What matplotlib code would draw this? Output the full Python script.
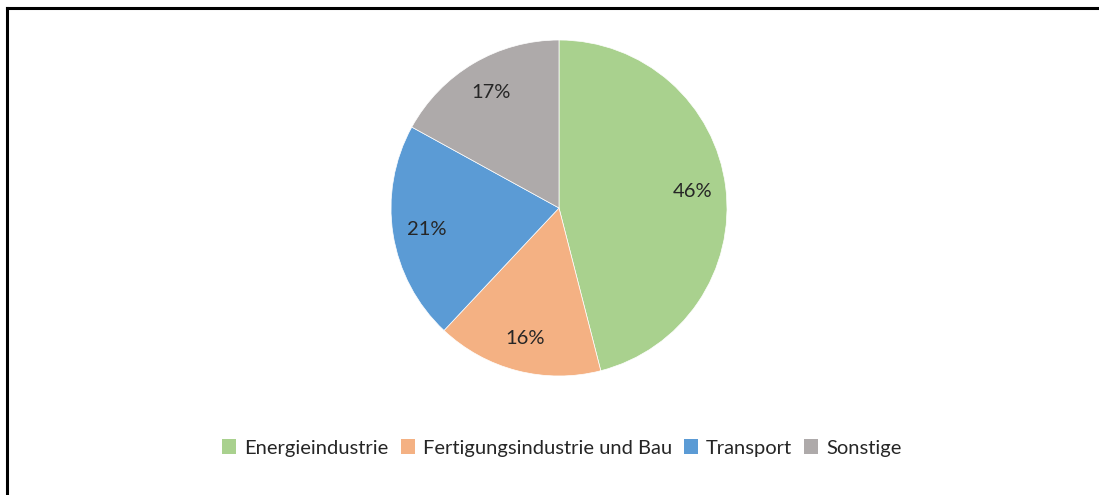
import matplotlib
matplotlib.use("Agg")
import matplotlib.pyplot as plt
from matplotlib.lines import Line2D
from matplotlib.patches import Patch

categories = ["Energieindustrie", "Fertigungsindustrie und Bau", "Transport", "Sonstige"]
values = [46, 16, 21, 17]
colors = ["#A9D18E", "#F4B183", "#5B9BD5", "#AEAAAA"]

plt.rcParams['font.family'] = ['Lato', 'DejaVu Sans']

W, H = 1099, 495
fig = plt.figure(figsize=(W / 100, H / 100), dpi=100)
fig.patch.set_facecolor("white")

cx, cy, r = 559, 208, 168
ax = fig.add_axes([(cx - r) / W, 1 - (cy + r) / H, 2 * r / W, 2 * r / H])
wedges, texts, autotexts = ax.pie(
    values, colors=colors, startangle=90, counterclock=False,
    autopct=lambda p: f"{p:.0f}%", pctdistance=0.8,
    wedgeprops=dict(linewidth=0.5, edgecolor="white"),
    textprops=dict(fontsize=14.5, color="#262626"))
ax.set_xlim(-1, 1)
ax.set_ylim(-1, 1)
ax.set_aspect("equal")

handles = [Patch(facecolor=c, edgecolor="none") for c in colors]
fig.legend(handles, categories, loc="center", ncol=4,
           bbox_to_anchor=(562 / W, 1 - 448 / H), frameon=False,
           fontsize=14.5, handlelength=0.7, handleheight=0.7,
           handletextpad=0.4, columnspacing=0.6, labelcolor="#262626")

# frame lines (top and left)
fig.add_artist(Line2D([7 / W, 1], [1 - 7.5 / H, 1 - 7.5 / H], color="black", lw=2.2,
                      transform=fig.transFigure))
fig.add_artist(Line2D([7 / W, 7 / W], [0, 1 - 7.5 / H], color="black", lw=2.2,
                      transform=fig.transFigure))

fig.savefig("out.png", dpi=100)
